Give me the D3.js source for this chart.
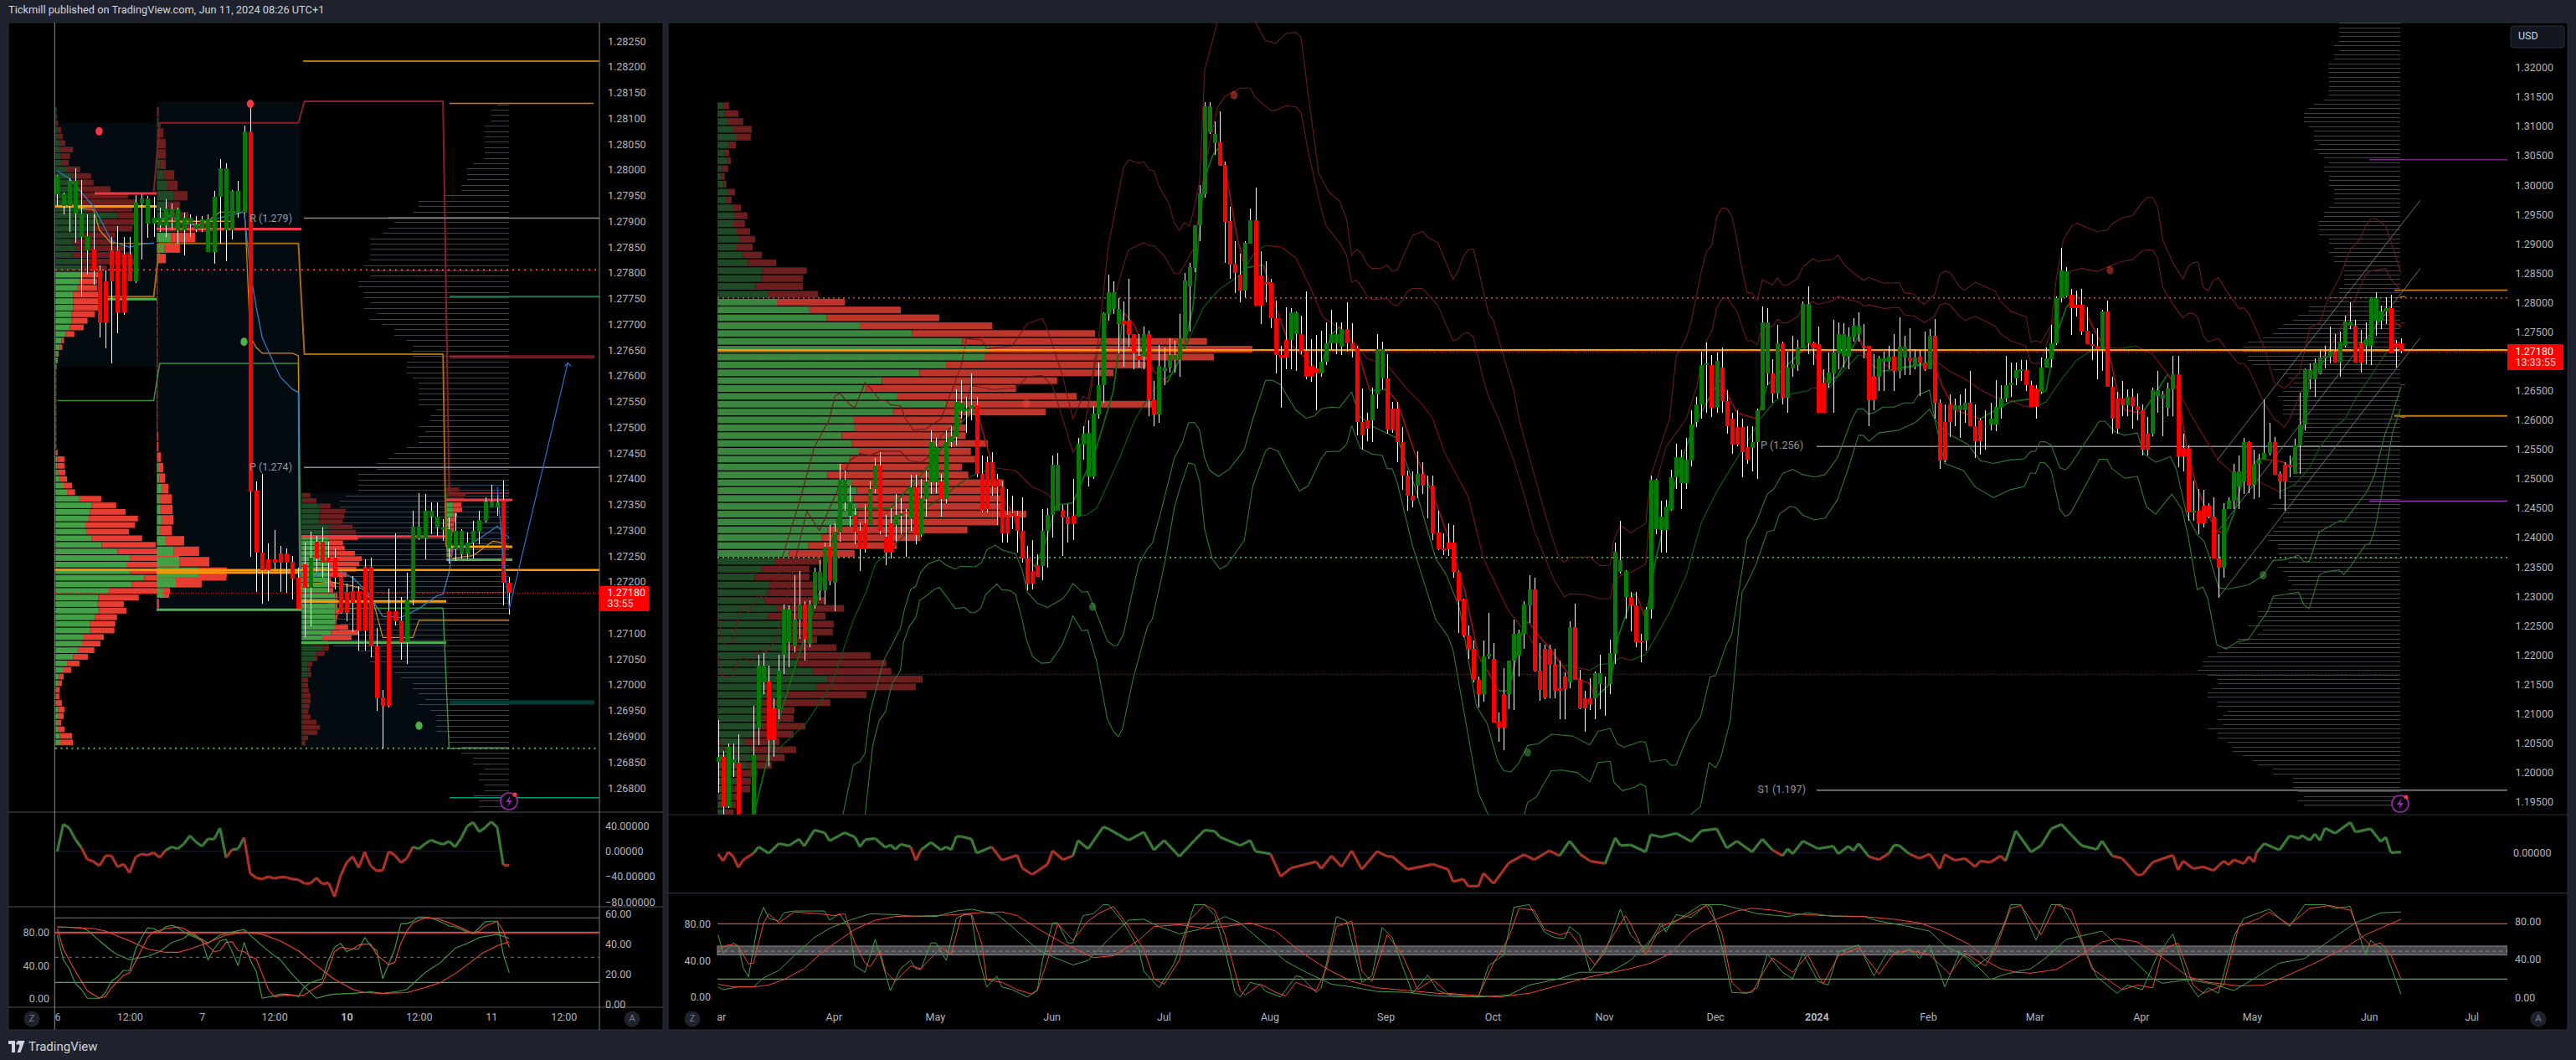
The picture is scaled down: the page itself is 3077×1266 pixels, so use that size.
<!DOCTYPE html>
<html><head><meta charset="utf-8">
<script src="https://cdnjs.cloudflare.com/ajax/libs/d3/7.8.5/d3.min.js"></script>
<style>html,body{margin:0;background:#1e222d}svg{display:block}text{font-family:Roboto,sans-serif}</style>
</head><body><svg id="c" width="3077" height="1266"></svg>
<script>
// ---- Daily chart (prices in 1e-4) ----
const dOpen=[12018,12027,11942,12017,12017,11900,11885,11900,12077,12153,12155,12109,12108,12201,12222,12215,12260,12286,12219,12284,12310,12310,12384,12323,12408,12460,12437,12438,12411,12424,12422,12483,12522,12402,12424,12422,12437,12443,12431,12485,12404,12466,12494,12494,12495,12465,12562,12571,12615,12615,12619,12625,12509,12528,12528,12500,12487,12438,12442,12437,12411,12364,12343,12353,12352,12412,12438,12446,12446,12436,12437,12435,12558,12504,12504,12610,12659,12781,12789,12763,12769,12769,12746,12709,12708,12747,12635,12610,12683,12689,12702,12702,12738,12828,12859,12931,12985,13090,13071,13073,13034,12939,12866,12847,12820,12900,12940,12846,12834,12834,12774,12711,12736,12736,12746,12747,12718,12692,12688,12679,12699,12730,12731,12725,12755,12730,12722,12597,12600,12600,12643,12671,12671,12620,12620,12563,12506,12471,12488,12508,12487,12489,12408,12381,12391,12391,12342,12294,12233,12211,12157,12133,12197,12193,12086,12133,12133,12191,12199,12236,12285,12312,12174,12211,12211,12183,12143,12163,12153,12248,12158,12127,12127,12127,12151,12151,12151,12202,12342,12299,12299,12284,12225,12225,12278,12414,12413,12413,12447,12503,12493,12493,12531,12597,12626,12694,12694,12621,12689,12632,12602,12588,12588,12554,12552,12562,12617,12679,12680,12645,12731,12638,12688,12694,12722,12730,12732,12729,12664,12662,12680,12714,12708,12708,12740,12746,12726,12726,12675,12674,12699,12699,12708,12684,12706,12706,12691,12708,12698,12687,12744,12629,12597,12626,12616,12616,12616,12629,12590,12600,12588,12592,12592,12621,12636,12659,12671,12685,12685,12660,12654,12648,12690,12704,12730,12807,12811,12813,12796,12796,12752,12729,12727,12720,12785,12657,12637,12637,12625,12640,12624,12617,12576,12576,12641,12636,12621,12652,12678,12552,12552,12444,12445,12454,12454,12435,12364,12349,12448,12463,12487,12495,12562,12490,12525,12532,12544,12562,12508,12524,12524,12509,12557,12592,12669,12669,12680,12705,12708,12717,12698,12726,12760,12761,12731,12726,12726,12769,12769,12785,12790,12731,12731];
const dClose=[12027,11942,12043,12022,11900,11880,11915,12030,12182,12182,12055,12055,12173,12277,12277,12261,12286,12227,12286,12341,12341,12384,12326,12410,12499,12499,12461,12410,12380,12380,12483,12522,12411,12375,12375,12438,12442,12441,12485,12404,12467,12495,12563,12555,12465,12563,12572,12631,12630,12619,12625,12509,12445,12449,12487,12487,12407,12407,12437,12411,12364,12321,12321,12333,12412,12438,12524,12524,12434,12423,12423,12559,12577,12578,12611,12660,12782,12817,12817,12789,12763,12746,12714,12702,12747,12635,12610,12692,12690,12711,12711,12739,12838,12860,12931,12986,13134,13134,13087,13033,12937,12865,12851,12820,12902,12940,12795,12795,12833,12774,12710,12707,12707,12783,12783,12718,12674,12674,12679,12699,12731,12746,12746,12755,12730,12721,12597,12574,12585,12643,12720,12720,12584,12584,12563,12506,12471,12463,12508,12488,12489,12407,12380,12379,12380,12342,12293,12233,12210,12157,12133,12197,12202,12085,12076,12076,12191,12236,12237,12286,12312,12173,12140,12128,12183,12139,12139,12142,12248,12158,12109,12109,12117,12169,12169,12150,12203,12376,12362,12343,12284,12222,12222,12278,12498,12498,12436,12452,12503,12537,12537,12532,12593,12626,12694,12696,12621,12701,12632,12589,12558,12558,12545,12532,12563,12617,12766,12766,12645,12731,12638,12689,12695,12724,12797,12797,12722,12612,12612,12681,12715,12746,12746,12742,12761,12761,12723,12634,12634,12705,12705,12708,12684,12725,12725,12701,12706,12698,12687,12744,12629,12531,12531,12597,12625,12625,12629,12590,12564,12564,12590,12602,12622,12637,12659,12663,12685,12686,12660,12623,12623,12690,12705,12731,12808,12854,12853,12791,12791,12751,12729,12728,12720,12785,12657,12602,12585,12625,12640,12624,12617,12550,12550,12651,12651,12643,12653,12678,12538,12538,12443,12445,12424,12424,12435,12364,12349,12448,12463,12512,12512,12562,12489,12526,12533,12544,12562,12507,12495,12495,12520,12557,12592,12686,12685,12698,12706,12709,12717,12698,12733,12768,12768,12698,12698,12738,12808,12808,12785,12790,12714,12723,12718];
const dHigh=[12089,12037,12049,12049,12065,11925,11915,12113,12201,12203,12182,12127,12201,12286,12284,12336,12343,12291,12293,12348,12362,12391,12422,12424,12525,12514,12488,12450,12426,12457,12495,12536,12546,12438,12450,12474,12467,12448,12507,12507,12500,12514,12583,12569,12509,12583,12590,12652,12668,12639,12679,12640,12540,12538,12546,12509,12495,12483,12471,12445,12469,12386,12395,12372,12448,12450,12540,12544,12455,12457,12500,12570,12589,12600,12624,12698,12784,12847,12836,12807,12802,12841,12747,12747,12759,12752,12667,12728,12723,12739,12735,12781,12850,12868,12931,13000,13141,13141,13108,13125,13040,12963,12904,12883,12904,12960,12996,12887,12871,12840,12804,12727,12792,12790,12785,12778,12819,12738,12745,12752,12766,12788,12766,12766,12800,12765,12726,12654,12612,12655,12746,12733,12712,12631,12631,12588,12514,12513,12547,12528,12505,12505,12445,12407,12424,12421,12343,12296,12250,12224,12163,12224,12271,12220,12102,12177,12191,12261,12243,12291,12336,12331,12220,12218,12217,12210,12191,12170,12258,12288,12175,12139,12160,12172,12201,12163,12226,12391,12428,12345,12307,12308,12236,12281,12505,12500,12462,12464,12516,12559,12550,12569,12617,12640,12717,12732,12711,12715,12724,12651,12612,12617,12602,12590,12590,12620,12793,12790,12704,12762,12733,12717,12744,12736,12802,12828,12733,12759,12686,12715,12770,12766,12765,12758,12773,12784,12764,12727,12712,12709,12717,12726,12746,12775,12743,12757,12721,12719,12751,12755,12772,12635,12626,12643,12636,12643,12654,12683,12626,12602,12617,12629,12668,12660,12709,12698,12698,12702,12702,12667,12660,12707,12724,12762,12811,12893,12861,12823,12821,12823,12792,12747,12757,12788,12803,12674,12648,12667,12652,12654,12645,12626,12605,12655,12683,12650,12664,12709,12709,12576,12557,12497,12483,12481,12459,12468,12406,12458,12469,12525,12540,12569,12564,12550,12543,12635,12595,12571,12512,12528,12540,12568,12646,12688,12697,12705,12721,12726,12759,12747,12750,12778,12800,12771,12754,12766,12808,12817,12795,12809,12814,12736,12739];
const dLow=[11965,11927,11939,11992,11890,11870,11870,11890,12046,12134,12011,12027,12091,12167,12179,12205,12227,12191,12213,12279,12293,12286,12319,12274,12393,12445,12419,12388,12343,12374,12421,12476,12405,12353,12364,12393,12405,12367,12412,12388,12402,12436,12474,12476,12436,12459,12554,12557,12602,12578,12600,12502,12443,12443,12471,12421,12391,12391,12414,12374,12357,12310,12312,12334,12327,12348,12400,12446,12369,12392,12395,12435,12533,12487,12500,12602,12630,12769,12781,12714,12691,12725,12686,12689,12686,12607,12590,12595,12659,12681,12681,12674,12738,12750,12852,12904,12979,13087,13051,13035,12868,12840,12816,12800,12809,12902,12795,12763,12800,12757,12680,12621,12686,12686,12683,12712,12669,12665,12617,12673,12693,12721,12712,12711,12716,12707,12574,12550,12564,12563,12619,12652,12576,12578,12528,12481,12445,12451,12467,12474,12433,12395,12379,12370,12369,12331,12237,12231,12193,12153,12110,12120,12193,12085,12052,12038,12108,12107,12163,12210,12255,12172,12122,12125,12127,12127,12091,12091,12144,12158,12108,12070,12106,12091,12108,12096,12134,12185,12338,12262,12241,12213,12188,12208,12262,12405,12374,12374,12445,12482,12449,12483,12521,12588,12603,12612,12605,12612,12612,12576,12543,12555,12502,12526,12512,12500,12617,12660,12629,12636,12626,12613,12674,12683,12722,12712,12693,12612,12612,12655,12612,12686,12690,12686,12733,12733,12705,12590,12617,12650,12650,12686,12650,12671,12676,12676,12686,12641,12683,12687,12602,12517,12528,12571,12590,12569,12595,12590,12535,12541,12550,12583,12581,12602,12631,12640,12660,12667,12650,12622,12602,12645,12689,12690,12728,12800,12809,12745,12776,12745,12729,12702,12669,12683,12657,12576,12576,12607,12607,12585,12600,12540,12540,12573,12612,12573,12607,12607,12519,12512,12428,12429,12405,12417,12433,12364,12298,12331,12448,12448,12449,12474,12476,12465,12469,12538,12540,12507,12466,12445,12502,12509,12509,12582,12652,12640,12678,12688,12697,12698,12674,12724,12755,12698,12681,12695,12694,12743,12755,12763,12714,12689,12714];
const bandOuterUp=[[0,12265],[1,12220],[3,12222],[4,12267],[5,12283],[6,12272],[8,12303],[9,12296],[11,12312],[13,12376],[16,12459],[19,12554],[22,12602],[23,12640],[24,12646],[26,12626],[27,12621],[29,12664],[30,12655],[32,12633],[33,12634],[34,12626],[36,12624],[37,12602],[38.5,12583],[41,12585],[44,12602],[48,12693],[49,12739],[52,12736],[53,12721],[58,12726],[61,12764],[64,12773],[65,12754],[68,12674],[70,12602],[72,12640],[73,12636],[75,12735],[77,12897],[80,13030],[81,13043],[83,13037],[84,13040],[85,13026],[86,13024],[87,12997],[89,12968],[90,12935],[91,12923],[92,12936],[93,12930],[94,12963],[95,13006],[96,13196],[98.5,13277],[102,13362],[106,13277],[108,13246],[110,13241],[112,13258],[114,13260],[115,13251],[116.5,13149],[118.5,13020],[120.6,12987],[122.6,12973],[124,12942],[125,12880],[126,12891],[127,12883],[128,12866],[129,12858],[131,12859],[132,12864],[133,12853],[134,12856],[135,12876],[137,12914],[139,12921],[140,12911],[142,12902],[145,12839],[146,12854],[147,12878],[148,12890],[149,12891],[150,12857],[152,12781],[153,12769],[155,12707],[157,12650],[158,12602],[161,12507],[163,12445],[165,12388],[166,12364],[167,12358],[168,12366],[172,12367],[174,12352],[176,12353],[176.6,12393],[178,12421],[180,12408],[183,12424],[184,12505],[187.7,12602],[189,12707],[191,12740],[192,12769],[193,12811],[194,12854],[195,12887],[196,12897],[197,12945],[198,12961],[199,12960],[200,12947],[201,12907],[202,12857],[203,12817],[204,12816],[205,12803],[206,12839],[208,12830],[209,12842],[210,12830],[211,12830],[213,12841],[214,12860],[216,12875],[217,12870],[220,12874],[221,12881],[222,12866],[224,12850],[226,12838],[227,12843],[230,12833],[233,12834],[234,12817],[236,12814],[237,12802],[238,12797],[240,12814],[241,12847],[242,12854],[243,12851],[245,12826],[246,12821],[248,12835],[252,12819],[253,12802],[255,12785],[258,12776],[259,12733],[260,12735],[261,12732],[263,12762],[264,12840],[265.4,12907],[267,12930],[268,12935],[272,12921],[274,12923],[275,12934],[277,12944],[279,12948],[281,12971],[282,12979],[283,12979],[284,12963],[285,12906],[287,12868],[289,12840],[290,12861],[291,12868],[292,12869],[293,12826],[294,12820],[295,12838],[296,12842],[297.5,12821],[300,12790],[301,12791],[302,12781],[305,12724],[307,12664],[309,12654],[310,12662],[312,12681],[314,12757],[316,12766],[317.5,12804],[320,12845],[322,12890],[324,12909],[325,12930],[326,12943],[327,12943],[329,12930],[330,12904],[332,12850]];
const bandInnerUp=[[0,12198],[1,12163],[3,12164],[4,12189],[5,12197],[6.5,12185],[8,12210],[9.5,12205],[11.5,12227],[14,12317],[17.5,12445],[20,12412],[23,12469],[26,12531],[28,12543],[30,12540],[32,12547],[36,12547],[37.7,12531],[40,12528],[42,12540],[44,12573],[48,12602],[50,12659],[54,12652],[59,12655],[61,12674],[64,12676],[66,12657],[68,12602],[70,12545],[72,12574],[75,12721],[77,12769],[80,12864],[81,12890],[84,12902],[85,12897],[86,12897],[88,12880],[90,12850],[91,12849],[92,12864],[94,12895],[96,13030],[98.5,13132],[100,13151],[103,13165],[105,13165],[106,13149],[109,13127],[110,13127],[112,13135],[114,13133],[115,13123],[116.5,13054],[119,12959],[120,12930],[122.6,12902],[124,12880],[125,12835],[126,12838],[127,12826],[128,12811],[129,12805],[132,12807],[133,12797],[134,12795],[135,12804],[136,12819],[137,12824],[139,12824],[142,12795],[145,12735],[146,12738],[147,12747],[148,12749],[149,12741],[151,12669],[152,12640],[153,12621],[154,12602],[157,12531],[159,12474],[161,12412],[163,12369],[165,12326],[167,12299],[168,12304],[171,12303],[174,12296],[176,12296],[176.6,12322],[178,12336],[180,12340],[183,12355],[184,12459],[187,12554],[191,12602],[193,12655],[195,12735],[196,12750],[197,12790],[198,12806],[199,12808],[201,12785],[202,12759],[203,12735],[204,12735],[205,12728],[206,12759],[208,12759],[209,12771],[210,12765],[211,12766],[213,12776],[214,12792],[216,12802],[217,12797],[220,12803],[221,12811],[222,12807],[225,12801],[226,12794],[227,12796],[230,12790],[233,12792],[234,12779],[236,12777],[238,12766],[240,12777],[241,12796],[242,12799],[243,12796],[245,12776],[246,12770],[248,12777],[252,12759],[253,12747],[255,12735],[258,12726],[259,12698],[260,12696],[261,12698],[263,12755],[265.4,12835],[267,12854],[269,12858],[272,12853],[274,12860],[277,12870],[279,12873],[281,12888],[282,12890],[283,12889],[284,12876],[285,12826],[287,12797],[289,12774],[290,12781],[291,12782],[292,12773],[293,12743],[294,12733],[296,12739],[297.5,12721],[300,12696],[301,12696],[302,12686],[305,12629],[307,12602],[309,12588],[310,12602],[313,12660],[315,12688],[317.5,12716],[320,12755],[322,12788],[325,12847],[326,12854],[329,12858],[330,12840],[332,12821]];
const bandInnerDown=[[24.6,11927],[26.7,12013],[28,12019],[29,12033],[30,12103],[32.6,12189],[36,12246],[36.8,12279],[38,12312],[39,12317],[40,12341],[41.4,12355],[43.6,12362],[45,12353],[46.8,12346],[47.8,12351],[50.7,12350],[52,12357],[53,12379],[54.7,12387],[56,12379],[58.7,12372],[60,12345],[61,12307],[63,12288],[65,12281],[66,12286],[68,12296],[69,12307],[70,12322],[71.8,12307],[72.9,12308],[74.3,12279],[76.8,12224],[78,12216],[78.8,12216],[80,12236],[81.5,12298],[83,12355],[84.7,12381],[85.7,12391],[87.4,12445],[90,12535],[91.6,12562],[92.8,12595],[94,12596],[95,12583],[96,12535],[97,12514],[98.7,12504],[100.8,12516],[103.8,12549],[105.5,12602],[108,12667],[109.3,12668],[111,12660],[112,12645],[114,12617],[116,12603],[117.7,12607],[119,12619],[121,12622],[122.6,12621],[125,12648],[126.5,12607],[129.4,12588],[134,12569],[137.4,12488],[141.6,12364],[143.7,12336],[146.3,12279],[149.6,12113],[151.7,12084],[153.8,12020],[155,12003],[156.4,12001],[157.9,12015],[159.7,12046],[161.8,12049],[164.4,12065],[168.6,12062],[172,12047],[173.6,12070],[176,12075],[177.4,12049],[178.7,12043],[182,12053],[183,12051],[183.9,12018],[186.9,12022],[188,12012],[189,12013],[191.7,12070],[193.8,12094],[195.7,12163],[196.8,12165],[198.9,12217],[200,12236],[203,12398],[204.8,12426],[207,12474],[208.3,12483],[210,12509],[212,12516],[214,12507],[216.4,12503],[218.4,12507],[220.8,12535],[223.7,12602],[224.8,12619],[226,12619],[226.9,12610],[228,12612],[229.8,12622],[232,12622],[233.9,12629],[235.8,12629],[236.8,12643],[239,12651],[240,12602],[242.3,12578],[246.5,12559],[249,12531],[251.6,12526],[254.8,12532],[257.7,12534],[258.9,12546],[259.9,12547],[260.8,12563],[261.8,12563],[263,12557],[264.7,12519],[265.8,12515],[266.8,12524],[272.5,12598],[273.6,12598],[275.4,12581],[277.5,12574],[280,12578],[281.2,12543],[283.6,12528],[286.5,12538],[287.7,12516],[289.7,12440],[291.8,12405],[293.2,12393],[294.3,12364],[296,12315],[297.8,12312],[301.8,12319],[304.6,12334],[306.8,12361],[308.9,12362],[311.8,12370],[312.8,12359],[313.9,12359],[315.9,12410],[317.5,12417],[320,12429],[320.7,12426],[323.2,12455],[325.3,12478],[326.8,12507],[328.9,12578],[330,12602],[332,12657]];
const bandOuterDown=[[29,11927],[30.5,12046],[31.8,12089],[33,12103],[34.3,12151],[36,12174],[36.6,12222],[37.7,12248],[39,12264],[39.8,12293],[41,12300],[42.7,12312],[43.7,12315],[45.2,12298],[46.8,12279],[48.6,12281],[49.9,12272],[50.7,12272],[51.8,12279],[52.8,12303],[55,12321],[56,12311],[57.5,12310],[58.7,12303],[60,12260],[60.8,12227],[62,12198],[63.8,12186],[65.5,12187],[67.8,12216],[69.2,12246],[70,12267],[71.8,12241],[72.9,12243],[74.7,12189],[76.8,12091],[78,12070],[79,12061],[79.8,12075],[81.9,12160],[84,12227],[84.8,12250],[85.7,12262],[88.2,12360],[90,12450],[91,12481],[92.8,12527],[94,12524],[95,12495],[96,12414],[97.5,12364],[99,12346],[100.4,12353],[103.8,12395],[105.5,12488],[108,12547],[108.8,12553],[110.5,12547],[112,12521],[114.7,12479],[116.4,12488],[119,12535],[120,12546],[122.6,12547],[124,12559],[125,12590],[126.7,12552],[129,12542],[131,12540],[132,12517],[133,12517],[134,12493],[137,12386],[141.6,12260],[144,12232],[145,12208],[150,11965],[152,11927],[156,11890],[159,11927],[159.7,11949],[161.4,11958],[164.4,12003],[166.5,12004],[169.4,12000],[172,11984],[173.6,12017],[176,12019],[176.7,11984],[178.4,11969],[180.8,11975],[182,11981],[183,11976],[183.7,11927],[187.5,11890],[191.7,11927],[193.8,11942],[195.5,12017],[196.8,12008],[197.8,12025],[199.7,12089],[202,12307],[203,12322],[204.8,12355],[207,12410],[208.3,12412],[209.4,12440],[211.5,12453],[212.6,12451],[214,12438],[216.3,12430],[218.4,12433],[220.8,12464],[222.9,12516],[225,12574],[225.9,12574],[227,12564],[229,12578],[233,12583],[236.4,12597],[239,12619],[240,12602],[242,12526],[245.7,12514],[248,12486],[251.6,12468],[254.8,12481],[257.7,12487],[258.9,12510],[259.9,12509],[260.8,12528],[261.8,12527],[263,12514],[264.7,12448],[265.8,12436],[266.8,12441],[272.5,12533],[274,12533],[275,12517],[277.5,12501],[280,12504],[281.8,12452],[283.6,12440],[286.8,12474],[288.8,12448],[290,12403],[291.8,12311],[292.9,12316],[293.9,12296],[295.7,12217],[297.5,12210],[299.6,12222],[301.8,12226],[305.7,12274],[306.8,12300],[308.9,12303],[311.8,12307],[312.8,12286],[313.9,12279],[315.9,12336],[317,12341],[319.8,12345],[320.7,12337],[322,12350],[325,12388],[325.8,12389],[326.8,12412],[328.5,12488],[330.3,12578],[331.9,12619]];
const slowMA=[[0,12060],[1,12041],[4,12032],[6.5,12003],[7.7,12025],[10,12025],[13,12049],[17.4,12084],[22.5,12151],[26.7,12260],[29.2,12307],[31,12355],[33.4,12374],[37.7,12412],[41,12450],[48.6,12497],[51,12509],[54.5,12519],[58.7,12514],[61.7,12488],[65,12474],[67.6,12450],[70,12438],[72.6,12438],[74.7,12450],[79,12531],[82.3,12602],[85.7,12650],[90,12683],[94,12759],[95.8,12792],[98.7,12821],[103,12847],[106,12887],[108,12897],[111,12895],[114,12876],[116.8,12826],[119.4,12774],[122.6,12757],[125,12738],[128,12705],[132,12693],[136,12652],[139,12626],[141,12602],[143.3,12545],[148,12469],[151,12364],[154,12310],[156,12274],[160,12232],[162,12198],[165.6,12182],[168,12182],[172,12174],[174,12184],[176.6,12186],[178,12196],[180,12191],[183,12201],[187.5,12269],[191,12336],[194,12426],[197,12478],[200,12521],[203.5,12569],[205.6,12602],[208.6,12633],[212,12645],[215,12650],[216,12655],[219,12652],[221,12674],[225,12711],[228,12702],[232,12688],[236,12693],[240,12702],[243,12683],[246.5,12667],[249,12652],[251.6,12640],[255,12633],[257.6,12624],[259.7,12621],[262,12631],[265,12669],[268,12702],[272,12724],[277,12722],[279.7,12726],[283,12712],[286,12678],[288,12650],[291,12602],[293,12574],[296,12531],[298.6,12512],[304,12495],[308,12478],[311,12490],[314,12519],[316,12554],[319,12588],[321,12602],[323,12636],[326,12674],[329,12714],[331,12738]];
const fastMA=[[7,11927],[10,12032],[15,12175],[20,12307],[24,12445],[29,12450],[34,12450],[41,12516],[46,12573],[48.6,12602],[51,12617],[56,12467],[58,12445],[60.4,12379],[62.5,12350],[64.6,12393],[66.7,12455],[70,12459],[74.7,12554],[78,12650],[80,12783],[82,12764],[85,12702],[86,12683],[88.6,12664],[91.6,12712],[93.7,12792],[95.8,13006],[97.5,13049],[98.7,13063],[100,13030],[102.5,12906],[104,12859],[107.6,12864],[110,12792],[112.6,12731],[116.4,12702],[118.5,12683],[121,12745],[122.7,12759],[126,12721],[128.6,12650],[132,12652],[134,12631],[137.4,12545],[141,12474],[144,12402],[147.4,12307],[150,12198],[152,12170],[154,12139],[156,12139],[159,12255],[160,12255],[162,12232],[164,12212],[168,12165],[172,12151],[173,12127],[176,12151],[177.6,12232],[180.6,12305],[181.4,12298],[183,12260],[185,12364],[187.6,12459],[191,12554],[192.6,12592],[197.6,12669],[201,12612],[205,12602],[207,12660],[210.3,12688],[215.4,12731],[218.7,12664],[220.8,12674],[225,12743],[227,12697],[229.7,12683],[239.8,12697],[241.4,12660],[244,12617],[249,12602],[254.8,12631],[259,12636],[262,12650],[264,12745],[266,12792],[268,12814],[272,12745],[274.6,12707],[276,12650],[277.5,12617],[281,12612],[286,12678],[288,12650],[289.7,12554],[291.8,12483],[295.4,12412],[297.5,12407],[299,12440],[301,12507],[304,12535],[309,12528],[310,12521],[312.5,12574],[314,12674],[317.5,12707],[321,12731],[325.3,12733],[329,12792],[330.5,12769],[332,12758]];
const channelLines=[[[295.7,12531],[335.8,12974]],[[296,12412],[335.8,12858]],[[296,12298],[335.8,12740]]];
const profBuy=[13,17,23,35,45,26,17,23,11,9,15,25,21,35,39,37,45,51,45,59,71,105,103,89,119,139,215,255,333,455,573,635,625,535,473,385,347,421,535,411,319,321,291,315,331,311,287,257,315,326,318,327,328,328,258,243,213,167,133,103,87,123,117,111,139,119,150,150,150,158,168,187,223,257,231,159,107,98,93,93,88,63,78,78,73,56,53,38,36,36,13];
const profSell=[14,32,37,45,33,17,10,8,14,8,6,16,12,20,31,27,31,37,37,45,66,104,97,111,116,159,214,264,310,429,573,617,537,468,454,410,352,420,483,357,253,262,290,318,262,292,285,330,355,332,345,336,395,330,327,232,207,154,110,112,128,100,111,142,157,134,122,120,83,120,190,208,184,223,233,190,157,82,85,113,90,82,106,79,54,37,25,38,12,7,25];
const grayVolD=[169,169,169,169,169,183,169,183,183,197,197,197,197,197,197,197,197,211,239,253,267,267,267,253,239,239,239,225,239,225,211,197,211,211,197,197,197,183,183,183,183,197,211,211,225,225,225,225,197,197,183,197,183,183,155,155,155,155,155,169,169,197,197,253,253,282,296,325,338,352,380,422,436,436,422,422,408,352,325,311,297,309,325,339,325,325,325,325,282,267,282,267,267,267,267,282,282,282,282,282,297,297,311,297,311,325,311,352,366,325,325,325,338,352,366,366,338,338,338,311,311,338,325,311,311,297,311,311,352,366,366,394,394,380,422,380,394,450,450,492,506,534,548,548,562,534,506,506,520,534,534,506,506,478,492,506,492,534,506,506,478,464,464,436,408,394,352,352,297,297,297,282,267,282,267];
// ---- Hourly chart (prices in 1e-5) ----
const hOpen=[127952,127930,127930,127915,127869,127844,127845,127805,127783,127843,127843,127836,127836,127783,127935,127895,127895,127893,127893,127907,127882,127882,127894,127885,127886,127841,127841,127947,127882,127882,127917,127917,128074,127377,127257,127243,127243,127255,127255,127239,127208,127234,127189,127278,127278,127247,127247,127209,127181,127182,127182,127229,127229,127075,126975,127143,127143,127125,127083,127165,127285,127285,127326,127305,127300,127265,127264,127254,127254,127277,127297,127319,127345,127345,127357,127199];
const hClose=[127989,127952,127979,127979,127915,127871,127804,127703,127703,127783,127723,127723,127783,127936,127944,127944,127907,127907,127925,127923,127923,127907,127907,127894,127903,127904,127948,128003,128003,127959,127959,128074,127376,127256,127223,127223,127238,127238,127238,127207,127148,127189,127247,127246,127238,127238,127208,127140,127140,127159,127106,127106,127074,126974,126960,126960,127124,127083,127166,127307,127307,127338,127338,127326,127306,127303,127299,127299,127277,127299,127320,127356,127356,127354,127199,127178];
const hHigh=[127990,127956,127983,128003,127980,127913,127913,127815,127804,127869,127891,127869,127869,127951,127953,127950,127948,127926,127942,127934,127926,127917,127913,127910,127910,127913,127959,128021,128013,127960,127978,128086,128132,127395,127409,127275,127300,127269,127265,127251,127227,127277,127297,127290,127306,127278,127265,127211,127197,127211,127192,127243,127247,127110,126990,127187,127294,127170,127218,127338,127372,127371,127354,127355,127322,127325,127333,127303,127295,127318,127338,127364,127389,127373,127397,127210];
const hLow=[127932,127913,127880,127858,127755,127796,127777,127674,127654,127624,127683,127719,127783,127780,127826,127868,127869,127880,127869,127883,127856,127834,127869,127880,127880,127840,127817,127856,127823,127865,127907,127915,127248,127181,127157,127162,127224,127180,127178,127165,127148,127092,127113,127219,127208,127181,127186,127138,127124,127102,127067,127067,127054,126949,126876,126956,127116,127048,127040,127154,127281,127243,127292,127289,127279,127235,127241,127246,127246,127246,127273,127315,127344,127328,127154,127136];
const hVwap=[[0,127998],[2,127983],[4,127956],[6,127929],[7.5,127896],[9,127861],[12,127850],[14,127856],[16,127858],null,[17,127902],[19,127913],[20,127899],[23,127892],[27,127907],[31,127918],[31.2,127896],[32,127804],[33,127734],[34,127674],[36,127623],[37,127598],[39,127574],[40,127568],[40.2,127192],[43,127213],[45.4,127230],[49,127208],[51.4,127181],[54,127133],[57,127131],[60,127148],[63,127173],[64,127176],[65,127219],[65.6,127262],[69,127276],[73,127308],[75,127285]];
const hBandOrange=[[2,127935],[3.6,127925],[6,127923],[7,127883],[9,127857],[12,127857],[16,127857],null,[17,127902],[20,127899],[24,127892],[27,127918],[31,127918],[31.2,127896],[32,127677],[33,127655],[34,127644],[39,127644],[40,127639],[40.2,127186],[43,127197],[45.4,127200],[49,127192],[50.7,127186],[52.5,127159],[54,127092],[59,127092],[60,127125],[64,127125],[75,127125],null,[65.6,127246],[69,127251],[72.3,127279],[73.7,127276],[75,127268]];
const hStepRed=[[16,127956],[17,128091],[40,128091],[41,128133],[64,128133],[65,127387],[65,127372],[75,127372]];
const hStepOrange=[[8,127754],[16,127754],[17,127857],[40,127857],[41,127642],[64,127642],[64.5,127268]];
const hStepGreen=[[0,127552],[16,127552],[17,127624],[40,127624],[40.5,127148],[64,127149],[65,126877],[75,126877]];
const hBlueDraw=[[73,127384],[74,127246],[75,127148],[84.7,127625]];
const grayVolH=[27,42,42,42,57,57,57,57,57,57,57,85,99,99,99,113,113,155,212,212,226,283,269,283,297,326,326,326,326,326,340,326,326,354,354,340,340,326,340,311,326,297,269,269,240,226,226,226,240,240,240,226,212,212,212,212,212,171,185,185,212,197,212,212,240,269,283,311,311,354,354,354,354,382,397,397,397,397,397,397,412,397,397,397,412,412,412,412,397,397,426,426,440,426,412,412,412,397,397,440,440,412,354,326,326,287,269,254,226,226,212,197,212,185,171,171,171,171,142,142,113,113,85,85,57,71,71,57,57,85,71,71,85];
const s1Buy=[2,2,3,5,5,9,11,12,15,27,37,33,55,55,62,70,145,110,90,65,40,48,40,60,60,60,58,52,42,42,42,38,38,34,24,14,10,5,5,2,1,1,1,1,1,1,1,1,1,1,1,1,1,4,4,5,9,19,27,56,84,80,78,70,72,84,108,145,174,166,174,208,178,125,100,99,102,92,80,80,66,62,52,42,27,17,8,7,1,1,1,6,7,5,7,10,11,6].slice(0,97);
const s1Sell=[1,2,3,8,12,14,30,22,16,31,46,56,74,115,128,110,43,80,90,75,100,112,140,130,60,50,40,46,58,58,60,54,37,32,20,6,6,3,0,1,1,1,1,1,1,1,1,1,1,1,1,1,4,17,17,18,18,20,19,51,58,84,115,116,100,119,127,125,116,124,116,192,162,143,95,61,64,52,60,58,47,43,39,34,29,20,11,8,9,8,14,15,12,8,14,29,30,13].slice(0,97);
const s2Buy=[1,3,3,3,3,8,16,25,39,26,33,53,33,18,5,1,1,1,1,1,1,1,1,1,1,1,1,1,1,1,1,1,1,1,5,6,11,7,9,11,7,21,39,53,98,45,15,1];
const s2Sell=[4,2,12,18,18,13,25,24,33,28,41,90,57,36,16,1,1,1,1,1,1,1,1,1,1,1,1,1,1,1,1,2,3,9,10,13,16,28,28,28,28,43,60,70,66,60,14,4];
const s3Buy=[2,2,42,44,42,42,66,66,66,64,64,64,64,64,64,64,64,64,64,79,79,79,79,79,79,76,69,49,24,51,36,31,14,14,14,2,2,2,2,2,2,2,2,2,2,2,2,1];
const s3Sell=[19,33,26,59,58,54,53,61,66,33,37,61,77,71,64,42,5,15,10,5,5,5,10,5,3,33,65,68,40,13,18,6,11,7,9,13,13,15,19,19,17,14,19,33,41,35,13,8];
const s4Buy=[3,5,17,15,15,15,10,8,8,6,5,5,5,5];
const s4Sell=[27,40,23,20,22,10,13,10,10,8,8,8,10,8];
// ---- CCI ----
const cciH=[0,43,37,19,6,-13,-16,-23,-7,-7,-25,-20,-34,-9,-4,-6,-2,-10,2,7,4,12,25,15,8,20,19,37,-10,3,4,22,-35,-42,-44,-40,-43,-41,-41,-44,-45,-51,-51,-42,-52,-50,-72,-39,-18,-8,-26,-1,-23,-31,-30,0,-6,-18,-11,7,4,12,18,14,11,16,7,21,40,46,31,38,47,38,-22,-22];
const cciD=[[0,-2],[1,-13],[2,1],[3,-6],[4,-23],[5,-11],[7,-1],[8,9],[10,-1],[12,14],[14,11],[16,21],[17,10],[19,35],[21,31],[22,18],[25,31],[27,24],[28,9],[29,20],[31,22],[33,8],[34,12],[35,5],[36,13],[38,9],[39,-12],[40,4],[42,16],[44,4],[45,9],[46,4],[47,25],[48,25],[50,21],[51,-1],[54,9],[56,-12],[59,-4],[60,-24],[62,-34],[65,-18],[66,3],[68,-11],[70,-5],[71,19],[73,6],[76,40],[77,37],[79,28],[81,19],[84,32],[86,4],[88,19],[91,-6],[94,19],[96,35],[98,33],[99,24],[103,11],[105,19],[106,2],[109,-2],[111,-37],[113,-24],[118,-14],[119,-25],[121,-5],[123,-22],[125,3],[127,-26],[130,2],[132,-6],[133,-6],[136,-26],[141,-18],[144,-26],[145,-45],[147,-41],[148,-52],[150,-52],[151,-32],[153,-48],[156,-16],[159,-3],[161,-11],[164,3],[166,-5],[168,18],[170,-2],[172,-13],[175,-17],[177,23],[178,11],[180,12],[183,1],[184,28],[186,24],[189,30],[192,17],[194,34],[197,37],[199,7],[201,18],[204,1],[206,21],[208,4],[210,-5],[211,6],[212,-2],[214,18],[217,6],[220,10],[221,-2],[223,10],[224,3],[225,14],[227,-6],[229,-11],[231,-1],[232,12],[233,11],[235,-2],[237,-9],[239,-2],[240,-13],[241,-25],[242,-3],[244,-12],[246,-9],[248,-22],[249,-13],[251,-15],[253,-5],[254,-13],[256,34],[259,1],[261,11],[263,37],[265,44],[267,27],[269,11],[272,5],[273,18],[275,-5],[277,-9],[280,-35],[281,-34],[283,-15],[287,-4],[288,-27],[289,-13],[291,-25],[293,-22],[295,-28],[297,-13],[298,-19],[299,-11],[301,-17],[302,-6],[303,-15],[303.5,0],[305,14],[308,4],[310,26],[312,22],[312.4,27],[314,19],[315,29],[316,19],[317,38],[319,30],[322,47],[323,32],[326,37],[328,17],[329,24],[330,0],[332,1]];
// ---- Stochastics ----
const stFastGreenH=[[0,77],[1,47],[2,36],[3,18],[4,11],[5,0],[7,0],[8,7],[9,21],[10,26],[11,34],[12,34],[13,60],[14,74],[15,86],[16,85],[17,81],[18,87],[19,89],[20,86],[21,81],[22,77],[23,74],[24,70],[25,47],[26,60],[27,70],[28,72],[29,57],[30,40],[31,68],[32,47],[33,33],[34,0],[36,3],[37,5],[38,5],[39,4],[40,2],[41,14],[42,19],[44,24],[45,47],[46,62],[47,67],[48,57],[49,60],[50,60],[51,74],[52,64],[53,58],[54,24],[56,60],[57,91],[58,91],[59,94],[60,99],[61,99],[62,98],[63,95],[64,92],[65,88],[66,87],[67,84],[68,81],[69,79],[70,86],[71,93],[72,94],[73,94],[74,53],[75,31]];
const stFastRedH=[[0,85],[1,60],[3,33],[5,9],[7,0],[8,2],[9,13],[11,28],[12,31],[13,45],[15,74],[16,81],[18,85],[20,87],[21,85],[22,81],[23,77],[24,70],[25,64],[26,57],[27,58],[28,68],[29,69],[30,58],[31,57],[32,51],[33,48],[34,30],[35,11],[36,2],[38,4],[40,3],[41,4],[42,9],[44,18],[45,36],[46,57],[47,62],[48,61],[49,60],[50,65],[51,66],[52,66],[53,53],[55,41],[56,44],[57,67],[58,82],[59,92],[61,98],[63,97],[65,92],[67,86],[69,79],[70,82],[71,88],[73,94],[74,82],[75,62]];
const stSlowGreenH=[[0,87],[4,86],[5,83],[7,70],[9,58],[10,53],[12,47],[15,51],[17,57],[19,68],[21,73],[22,79],[24,72],[25,67],[27,77],[28,79],[31,84],[32,77],[34,64],[36,52],[37,47],[39,29],[41,14],[43,0],[45,4],[46,5],[49,6],[52,8],[54,6],[57,9],[58,11],[61,31],[62,36],[63.5,43],[66,61],[68,67],[70,74],[73,78],[75,73]];
const stSlowRedH=[[0,87],[6,85],[8,82],[12,70],[15,60],[18,56],[20,56],[22,60],[25,68],[28,77],[31,81],[34,78],[37,70],[40,58],[43,40],[46,23],[49,11],[51,7],[54,6],[58,7],[61,13],[63.5,19],[66,30],[68.4,43],[70.5,55],[73,64],[75,69]];
const stFastGreenD=[[0,68],[1,48],[3,59],[4,56],[5,31],[6,22],[8,84],[9,98],[10,86],[12,83],[13,92],[15,94],[21,94],[22,84],[24,91],[26,74],[27,34],[29,27],[31,63],[34,7],[36,31],[38,40],[39,31],[40,30],[42,59],[43,59],[45,40],[47,86],[49,91],[50,89],[51,52],[53,11],[55,23],[56,11],[58,8],[61,0],[63,8],[64,40],[66,81],[67,81],[69,59],[70,59],[72,89],[74,91],[76,101],[77,101],[80,81],[83,52],[84,28],[87,10],[90,37],[94,101],[96,101],[98,89],[100,52],[102,5],[103,0],[105,16],[107,13],[108,6],[111,0],[114,23],[115,22],[118,5],[119,10],[122,88],[124,83],[127,16],[129,23],[131,76],[133,65],[135,34],[137,4],[140,24],[142,7],[145,1],[150,0],[152,34],[155,46],[157,98],[160,101],[163,71],[165,65],[167,64],[168,77],[170,68],[172,28],[175,49],[178,96],[180,68],[183,52],[186,81],[187,71],[189,90],[192,87],[195,101],[196,98],[198,56],[200,5],[203,4],[205,10],[207,47],[210,27],[212,20],[214,48],[217,17],[219,13],[221,49],[225,57],[228,23],[231,52],[233,46],[235,53],[237,42],[239,57],[242,11],[245,49],[248,33],[251,45],[254,84],[255,101],[257,101],[260,62],[263,101],[265,101],[268,72],[272,22],[276,4],[278,13],[281,8],[284,46],[287,69],[290,16],[292,0],[294,10],[296,4],[299,66],[301,86],[306,96],[310,77],[313,101],[317,101],[319,97],[322,99],[325,46],[326,62],[329,49],[332,3]];
const stFastRedD=[[0,52],[2,57],[4,56],[6,36],[7,37],[9,81],[10,91],[12,81],[15,93],[20,91],[23,89],[25,91],[27,59],[29,37],[30,33],[32,50],[33,28],[35,17],[38,34],[40,31],[44,54],[46,47],[48,89],[50,91],[52,59],[53,19],[56,16],[59,8],[62,3],[63,7],[65,40],[67,80],[70,62],[73,83],[75,91],[78,99],[81,77],[84,52],[86,20],[88,14],[91,40],[93,84],[96,101],[98,95],[100,68],[103,7],[104,2],[107,14],[110,5],[112,1],[114,16],[118,7],[120,31],[122,77],[125,83],[127,28],[129,17],[132,68],[135,46],[138,8],[141,19],[144,4],[150,1],[153,37],[156,65],[158,97],[161,95],[163,74],[166,68],[168,71],[171,49],[173,35],[176,62],[179,89],[180,80],[183,46],[186,77],[191,88],[195,100],[198,71],[200,16],[202,5],[204,5],[206,25],[208,43],[212,27],[215,46],[218,14],[221,45],[225,54],[229,25],[232,48],[235,51],[239,46],[243,25],[246,48],[250,34],[252,52],[255,97],[257,100],[261,68],[264,101],[267,95],[271,31],[277,8],[280,13],[283,10],[285,52],[288,59],[291,13],[293,4],[297,13],[300,77],[304,86],[306,93],[310,79],[314,97],[318,100],[322,95],[324,68],[326,56],[328,59],[330,46],[332,20]];
const stSlowGreenD=[[0,11],[1,8],[4,11],[7,11],[9,21],[12,29],[15,45],[19,65],[22,75],[26,84],[30,91],[35,90],[39,88],[43,88],[47,94],[50,96],[55,90],[58,77],[63,52],[66,44],[70,35],[73,40],[77,63],[81,84],[84,85],[87,77],[91,69],[95,74],[100,88],[103,81],[107,62],[112,39],[116,27],[121,14],[125,11],[130,6],[136,5],[142,1],[150,0],[156,2],[160,13],[166,20],[170,27],[176,27],[180,40],[185,68],[189,83],[192,94],[194,101],[198,101],[201,97],[205,91],[211,88],[215,92],[220,88],[226,88],[229,83],[234,78],[239,72],[242,56],[247,42],[251,19],[254,25],[259,31],[262,43],[266,63],[273,72],[277,52],[283,20],[285,15],[290,19],[295,14],[299,7],[303,20],[308,37],[313,42],[318,62],[323,81],[328,92],[332,93]];
const stSlowRedD=[[0,14],[3,11],[7,11],[10,13],[13,19],[17,31],[21,51],[27,74],[31,84],[35,88],[43,89],[47,90],[51,92],[56,93],[59,89],[63,75],[68,59],[74,43],[78,45],[83,62],[86,77],[91,79],[96,75],[100,77],[105,81],[110,72],[115,49],[120,31],[125,17],[130,10],[136,7],[142,4],[148,2],[154,0],[160,4],[166,13],[172,22],[180,31],[184,37],[188,48],[192,71],[196,83],[201,94],[204,97],[208,95],[212,91],[218,89],[226,88],[232,85],[237,81],[242,71],[247,57],[250,40],[253,31],[256,27],[259,26],[264,30],[268,43],[273,60],[276,64],[280,60],[285,43],[290,22],[294,16],[300,12],[305,13],[309,22],[315,37],[321,54],[325,68],[332,85]];
// ---- Labels ----
const hourTicks=[0,12,24,36,48,60,72,84];
const hourLabels=["6","12:00","7","12:00","10","12:00","11","12:00"];
const dayTicks=[0.6,22.8,42.8,65.8,87.9,108.8,131.7,152.8,174.8,196.7,216.7,238.7,259.7,280.7,302.6,325.7,345.9];
const dayLabels=["ar","Apr","May","Jun","Jul","Aug","Sep","Oct","Nov","Dec","2024","Feb","Mar","Apr","May","Jun","Jul"];
const dayPriceTicks=d3.range(0,26).map(k=>13200-k*50).filter(v=>v!==12700);
const hourPriceTicks=d3.range(0,30).map(k=>128250-k*50).filter(v=>v!==127150);

// ---- Scales ----
const svg=d3.select("#c");
const x1=d3.scaleLinear([0,75],[68.4,608.4]), y1=d3.scaleLinear([128250,126800],[49,941]);
const x2=d3.scaleLinear([0,332],[857.7,2867.96]), y2=d3.scaleLinear([13200,11950],[80.7,957.7]);
const cciY=d3.scaleLinear([40,-80],[986.7,1077]), cciY2=d3.scaleLinear([0,-40],[1018.3,1049.1]);
const stY1=d3.scaleLinear([0,100],[1192.3,1094.3]), stY2=d3.scaleLinear([0,100],[1190.7,1081.5]);
const axisC="#b2b5be", RED="#ff0000", GREEN="#067a06";

svg.append("rect").attr("width",3077).attr("height",1266).attr("fill","#1e222d");
svg.append("rect").attr("x",10).attr("y",27).attr("width",782).attr("height",1203).attr("fill","#000").attr("stroke","#2a2e39");
svg.append("rect").attr("x",798).attr("y",27).attr("width",2269).attr("height",1203).attr("fill","#000").attr("stroke","#2a2e39");
const defs=svg.append("defs");
[["cpL",11,27,705,943],["cpR",799,27,2196,946],["cpL2",11,971,705,112],["cpL3",11,1084,705,119],["cpR2",799,974,2196,92],["cpR3",799,1067,2196,136]].forEach(a=>
 defs.append("clipPath").attr("id",a[0]).append("rect").attr("x",a[1]).attr("y",a[2]).attr("width",a[3]).attr("height",a[4]));
const gL=svg.append("g").attr("clip-path","url(#cpL)"), gR=svg.append("g").attr("clip-path","url(#cpR)");

function poly(g,x,y,data,color,w,opts={}){
  const ln=d3.line().defined(d=>d).x(d=>x(d[0])).y(d=>y(d[1]));
  const p=g.append("path").attr("d",ln(data)).attr("fill","none").attr("stroke",color).attr("stroke-width",w).attr("stroke-linejoin","round");
  if(opts.dash)p.attr("stroke-dasharray",opts.dash);
  if(opts.op)p.attr("opacity",opts.op);
  return p;
}
function hline(g,xa,xb,y,color,w,dash){
  const l=g.append("line").attr("x1",xa).attr("x2",xb).attr("y1",y).attr("y2",y).attr("stroke",color).attr("stroke-width",w);
  if(dash)l.attr("stroke-dasharray",dash);
}
function slopeLine(g,x,y,data,up,down,w){
  d3.pairs(data).forEach(([a,b])=>poly(g,x,y,[a,b],b[1]>=a[1]?up:down,w));
}
function candles(g,x,y,o,c,h,l,bw){
  const idx=d3.range(o.length);
  g.append("g").attr("shape-rendering","crispEdges").selectAll("line").data(idx).join("line")
   .attr("x1",i=>Math.round(x(i))+.5).attr("x2",i=>Math.round(x(i))+.5).attr("y1",i=>y(h[i])).attr("y2",i=>y(l[i]))
   .attr("stroke","#fff").attr("stroke-width",1);
  g.append("g").attr("shape-rendering","crispEdges").selectAll("rect").data(idx).join("rect")
   .attr("x",i=>Math.round(x(i))+.5-bw/2).attr("width",bw)
   .attr("y",i=>y(Math.max(o[i],c[i])))
   .attr("height",i=>Math.max(1.5,Math.abs(y(o[i])-y(c[i]))))
   .attr("fill",i=>c[i]>=o[i]?GREEN:RED);
}
function profile(g,yS,baseX,start,step,buy,sell,hi,lo,h,colors,k){
  const v=d3.scaleLinear([0,100],[0,100/k]);
  buy.forEach((b,i)=>{
    const p=start-i*step, bright=p<=hi&&p>=lo, yy=yS(p)-h/2;
    g.append("rect").attr("x",baseX).attr("y",yy).attr("width",v(b)).attr("height",h).attr("fill",bright?colors[0]:colors[2]);
    g.append("rect").attr("x",baseX+v(b)).attr("y",yy).attr("width",v(sell[i])).attr("height",h).attr("fill",bright?colors[1]:colors[3]);
  });
}
function grayProfile(g,yS,right,start,step,vols,k){
  const v=d3.scaleLinear([0,100],[0,100/k]);
  g.append("g").attr("shape-rendering","crispEdges").selectAll("rect").data(vols).join("rect")
   .attr("x",d=>right-v(d)).attr("width",d=>v(d)).attr("y",(d,i)=>Math.round(yS(start-i*step))).attr("height",1).attr("fill","#414248");
}
function dot(g,cx,cy,c,op){g.append("ellipse").attr("cx",cx).attr("cy",cy).attr("rx",4.2).attr("ry",5).attr("fill",c).attr("opacity",op);}
function bolt(cx,cy){
  svg.append("circle").attr("cx",cx).attr("cy",cy).attr("r",10).attr("fill","#000").attr("stroke","#9c27b0").attr("stroke-width",1.6);
  svg.append("path").attr("d",`M${cx+2} ${cy-7}L${cx-4} ${cy+1}H${cx}L${cx-2} ${cy+7}L${cx+4} ${cy-1}H${cx}Z`).attr("fill","#9c27b0");
  svg.append("circle").attr("cx",cx+7).attr("cy",cy-8).attr("r",2.6).attr("fill","#f23645");
}

// ====== LEFT PRICE PANE ======
const boxFill="#040b10";
[[-0.3,16.5,128091,127617],[16.5,40.4,128133,127146],[40.4,64.5,127372,126877],[64.5,75,127395,127243]].forEach(b=>
 gL.append("rect").attr("x",x1(b[0])).attr("width",x1(b[1])-x1(b[0])).attr("y",y1(b[2])).attr("height",y1(b[3])-y1(b[2])).attr("fill",boxFill));
const lc=["#43a047","#e53d31","#1f4a25","#6b1e1e"];
grayProfile(gL,y1,608.2,128127,10.4,grayVolH,1.96);
profile(gL,y1,66.3,128116,12.79,s1Buy,s1Sell,127806,126877,6.8,lc,1.96);
profile(gL,y1,187.3,128112,20.3,s2Buy,s2Sell,127885,127146,11.3,lc,1.96);
profile(gL,y1,360.2,127368,10.24,s3Buy,s3Sell,127288,127082,5.6,lc,1.96);
profile(gL,y1,533.2,127379,9.76,s4Buy,s4Sell,127359,127243,5.2,lc,1.96);
// session levels
const lvl=(x0,x1b,p,c,w)=>hline(gL,x0,x1b,y1(p),c,w);
lvl(113,187,127954,"#f23645",3);lvl(187,360,127885,"#f23645",3);lvl(360,533,127288,"#f23645",3);lvl(533,612,127359,"#f23645",3);
lvl(66,187,127929,"#ff9800",3);lvl(187,280,127900,"#ff9800",1.5);lvl(187,360,127218,"#ff9800",3);lvl(360,533,127162,"#ff9800",3);lvl(533,612,127268,"#ff9800",3);
lvl(127,187,127749,"#4caf50",3);lvl(187,360,127146,"#4caf50",3);lvl(360,533,127082,"#4caf50",3);lvl(533,612,127243,"#4caf50",3);
poly(gL,x1,y1,hStepRed,"#8a1f2a",2);
poly(gL,x1,y1,hStepOrange,"#a86a0c",2);
poly(gL,x1,y1,hStepGreen,"#3c8f40",1.5);
poly(gL,x1,y1,hBandOrange,"#d68a10",1.2);
poly(gL,x1,y1,hVwap,"#2f7fc0",1.3);
// static levels
hline(gL,362,716,y1(128211),"#b3720e",2);
hline(gL,537,709,y1(128129),"#c67c11",1.5);
hline(gL,363,716,y1(127906),"#8a8c93",1.5);
hline(gL,363,716,y1(127422),"#8a8c93",1.5);
hline(gL,66,716,y1(127806),"#f23645",2,"2,5");
hline(gL,66,716,y1(127223),"#ff9800",2.5);
hline(gL,66,716,y1(127178),"#f00",1,"1,2");
hline(gL,66,716,y1(126877),"#4caf50",2,"2,4.5");
hline(gL,537,716,y1(127754),"#1b7c4d",2);
hline(gL,537,716,y1(126781),"#089981",1.5);
gL.append("rect").attr("x",537).attr("width",173).attr("y",y1(127640)).attr("height",4).attr("fill","#b22833").attr("opacity",.65);
gL.append("rect").attr("x",537).attr("width",173).attr("y",y1(126970)).attr("height",5).attr("fill","#009688").attr("opacity",.4);
candles(gL,x1,y1,hOpen,hClose,hHigh,hLow,5);
poly(gL,x1,y1,hBlueDraw,"#2f6fd0",1.2);
// arrow head
const ah=[x1(84.7),y1(127625)];
gL.append("path").attr("d",`M${ah[0]-4} ${ah[1]+4}L${ah[0]} ${ah[1]}L${ah[0]+4} ${ah[1]+4}`).attr("fill","none").attr("stroke","#2f6fd0").attr("stroke-width",1.2);
dot(gL,118.4,156.7,"#f23645",1);dot(gL,299,124,"#f23645",1);dot(gL,291.5,408.3,"#4caf50",1);dot(gL,500.5,866.7,"#4caf50",1);
const lbl=(g,x,y,t,anchor)=>g.append("text").attr("x",x).attr("y",y).attr("fill","#9598a1").attr("font-size",12.5).attr("text-anchor",anchor||"end").attr("dominant-baseline","middle").text(t);
lbl(gL,349,262,"R   (1.279)");
lbl(gL,349,559,"P (1.274)");

// ====== RIGHT PRICE PANE ======
const rc=["#3b873f","#bd352b","#204a25","#6b1e1e"];
grayProfile(gR,y2,2867.2,13276,7.65,grayVolD,2.316);
profile(gR,y2,857.1,13135,13.37,profBuy,profSell,12808,12366,8,rc,1.96);
hline(gR,857,2995,y2(12808),"#f23645",1.6,"2,4");
hline(gR,857,2995,y2(12366),"#4caf50",1.8,"2,4");
hline(gR,857,2867,y2(12167),"#8a2027",1.2,"1,1.5");
hline(gR,2170,2995,y2(12555),"#8a8c93",1.5);
hline(gR,2170,2995,y2(11970),"#8a8c93",1.5);
hline(gR,2830,2995,y2(13043),"#b040c8",1);
hline(gR,2830,2995,y2(12462),"#a030b8",1.6);
hline(gR,2860,2995,y2(12821),"#c67c11",1.8);
hline(gR,2860,2995,y2(12607),"#c67c11",1.8);
channelLines.forEach(l=>poly(gR,x2,y2,l,"#6f7078",1));
poly(gR,x2,y2,bandOuterUp,"#6a1a20",1.1);
poly(gR,x2,y2,bandInnerUp,"#6a1a20",1.1);
poly(gR,x2,y2,bandInnerDown,"#2f7a33",1.1);
poly(gR,x2,y2,bandOuterDown,"#2f7a33",1.1);
slopeLine(gR,x2,y2,slowMA,"#0d5a12","#741216",1.2);
slopeLine(gR,x2,y2,fastMA,"#0f6b14","#8c1116",1.8);
hline(gR,857,2995,y2(12719),"#ff9800",2.4);
hline(gR,857,2995,y2(12715),"#e02020",1,"1,1.5");
candles(gR,x2,y2,dOpen,dClose,dHigh,dLow,5);
[[101.8,13153],[60.8,12628],[274.6,12855]].forEach(d=>dot(gR,x2(d[0]),y2(d[1]),"#f44336",.5));
[[73.9,12282],[159.7,12034],[304.8,12336]].forEach(d=>dot(gR,x2(d[0]),y2(d[1]),"#4caf50",.5));
[[12810,"#c67c11"],[12605,"#c67c11"],[12765,"#741216"],[12660,"#0d6a60"]].forEach(t=>hline(gR,2867,2873,y2(t[0]),t[1],1.2));
lbl(gR,2154,532.7,"P (1.256)");
lbl(gR,2157,943.7,"S1 (1.197)");

// ====== CCI ======
function cciPath(g,x,y,data){
  d3.pairs(data).forEach(([a,b])=>poly(g,x,y,[a,b],(a[1]+b[1])/2>=0?"#387a36":"#a93226",3.2));
}
const gL2=svg.append("g").attr("clip-path","url(#cpL2)"), gL3=svg.append("g").attr("clip-path","url(#cpL3)");
const gR2=svg.append("g").attr("clip-path","url(#cpR2)"), gR3=svg.append("g").attr("clip-path","url(#cpR3)");
hline(gL2,66,608,cciY(0),"#1c1c30",1);
cciPath(gL2,x1,cciY,cciH.map((v,i)=>[i,v]));
hline(gR2,857,2868,cciY2(0),"#1c1c30",1);
cciPath(gR2,x2,cciY2,cciD);

// ====== STOCH ======
hline(gL3,66,716,stY1(98),"#77787f",1.2);
hline(gL3,66,716,stY1(50),"#6f7078",1,"4,4");
hline(gL3,66,716,stY1(80.6),"#888",1);
hline(gL3,66,716,stY1(80),"#f44336",1.8);
hline(gL3,66,716,stY1(19.4),"#4caf50",1.2);
[[stSlowGreenH,"#43a047"],[stSlowRedH,"#f44336"],[stFastGreenH,"#43a047"],[stFastRedH,"#f44336"]].forEach(a=>poly(gL3,x1,stY1,a[0],a[1],1.1));
gR3.append("rect").attr("x",857).attr("width",2138).attr("y",stY2(55.6)).attr("height",stY2(46)-stY2(55.6)).attr("fill","#4a4a4e").attr("stroke","#7c7d84").attr("stroke-width",1.2);
hline(gR3,857,2995,stY2(50),"#8e8f96",1,"4,4");
hline(gR3,857,2995,stY2(80),"#f44336",1.3);
hline(gR3,857,2995,stY2(19.5),"#4caf50",1.3);
[[stSlowGreenD,"#43a047"],[stSlowRedD,"#f44336"],[stFastGreenD,"#43a047"],[stFastRedD,"#f44336"]].forEach(a=>poly(gR3,x2,stY2,a[0],a[1],1));

// ====== FRAME LINES ======
[970,1083,1203].forEach(y=>hline(svg,10,792,y,"#50505a",1.2));
[973,1066.7].forEach(y=>hline(svg,798,3067,y,"#2c2f3b",1.2));
svg.append("line").attr("x1",716).attr("x2",716).attr("y1",27).attr("y2",1230).attr("stroke","#787b86");
svg.append("line").attr("x1",65.3).attr("x2",65.3).attr("y1",27).attr("y2",1230).attr("stroke","#8a8c93");

// ====== AXES ======
function styleAxis(g,size){g.select(".domain").remove();g.selectAll(".tick line").remove();g.selectAll("text").attr("fill",axisC).attr("font-size",size||12.5).attr("font-family","Roboto,sans-serif");}
svg.append("g").attr("transform","translate(716,0)").call(d3.axisRight(y1).tickValues(hourPriceTicks).tickSize(0).tickPadding(10).tickFormat(d=>(d/1e5).toFixed(5))).call(styleAxis);
svg.append("g").attr("transform","translate(2995,0)").call(d3.axisRight(y2).tickValues(dayPriceTicks).tickSize(0).tickPadding(9.5).tickFormat(d=>(d/1e4).toFixed(5))).call(styleAxis);
svg.append("g").attr("transform","translate(716,0)").call(d3.axisRight(cciY).tickValues([40,0,-40,-80]).tickSize(0).tickPadding(7).tickFormat(d=>(d<0?"\u2212":"")+Math.abs(d).toFixed(5))).call(styleAxis);
svg.append("g").attr("transform","translate(2995,0)").call(d3.axisRight(cciY2).tickValues([0]).tickSize(0).tickPadding(7).tickFormat(d=>d.toFixed(5))).call(styleAxis);
svg.append("g").attr("transform","translate(716,0)").call(d3.axisRight(d3.scaleLinear([0,60],[1199,1091])).tickValues([60,40,20,0]).tickSize(0).tickPadding(7).tickFormat(d=>d.toFixed(2))).call(styleAxis);
svg.append("g").attr("transform","translate(2995,0)").call(d3.axisRight(d3.scaleLinear([0,80],[1191.7,1100])).tickValues([80,40,0]).tickSize(0).tickPadding(9).tickFormat(d=>d.toFixed(2))).call(styleAxis);
svg.append("g").attr("transform","translate(62,0)").call(d3.axisLeft(stY1).tickValues([80,40,0]).tickSize(0).tickPadding(3).tickFormat(d=>d.toFixed(2))).call(styleAxis);
svg.append("g").attr("transform","translate(852,0)").call(d3.axisLeft(d3.scaleLinear([0,80],[1190.7,1103.3])).tickValues([80,40,0]).tickSize(0).tickPadding(3).tickFormat(d=>d.toFixed(2))).call(styleAxis);
const xa1=svg.append("g").attr("transform","translate(0,1203)").call(d3.axisBottom(x1).tickValues(hourTicks).tickSize(0).tickPadding(7).tickFormat((d,i)=>hourLabels[i])).call(styleAxis);
xa1.selectAll("text").attr("font-weight",(d,i)=>hourLabels[i]=="10"?700:400);
const xa2=svg.append("g").attr("transform","translate(0,1203)").call(d3.axisBottom(x2).tickValues(dayTicks).tickSize(0).tickPadding(7).tickFormat((d,i)=>dayLabels[i])).call(styleAxis);
xa2.selectAll("text").attr("font-weight",(d,i)=>dayLabels[i]=="2024"?700:400);

// price tags
function tag(x,w,y,h,a,b){
  svg.append("rect").attr("x",x).attr("y",y).attr("width",w).attr("height",h).attr("fill","#ff0000");
  svg.append("text").attr("x",x+9.5).attr("y",y+h*.3).attr("fill","#fff").attr("font-size",12.5).attr("dominant-baseline","middle").text(a);
  svg.append("text").attr("x",x+9.5).attr("y",y+h*.74).attr("fill","#fff").attr("opacity",.8).attr("font-size",12.5).attr("dominant-baseline","middle").text(b);
}
tag(716,59,700,30,"1.27180","33:55");
tag(2995,67,411,31,"1.27180","13:33:55");
bolt(608,957);bolt(2867,960);

// corner buttons
function roundBtn(x,t){svg.append("circle").attr("cx",x).attr("cy",1217).attr("r",9.5).attr("fill","#1e222d");
 svg.append("text").attr("x",x).attr("y",1217).attr("fill","#787b86").attr("font-size",11.5).attr("text-anchor","middle").attr("dominant-baseline","middle").text(t);}
roundBtn(38,"Z");roundBtn(755,"A");roundBtn(827,"Z");roundBtn(3032,"A");
svg.append("rect").attr("x",2999).attr("y",31).attr("width",64).attr("height",26).attr("rx",3).attr("fill","#131722").attr("stroke","#2a2e39");
svg.append("text").attr("x",3008).attr("y",44).attr("fill","#d1d4dc").attr("font-size",12.5).attr("dominant-baseline","middle").text("USD");
// header + footer
svg.append("text").attr("x",10).attr("y",16).attr("fill","#d1d4dc").attr("font-size",12.8).text("Tickmill published on TradingView.com, Jun 11, 2024 08:26 UTC+1");
svg.append("path").attr("d","M10 1243h8v14h-4v-10h-4zM20.5 1243h9l-5 14h-4l3-8z").attr("fill","#d1d4dc");
svg.append("circle").attr("cx",21).attr("cy",1246).attr("r",1.8).attr("fill","#d1d4dc");
svg.append("text").attr("x",34).attr("y",1255).attr("fill","#d1d4dc").attr("font-size",15).text("TradingView");
</script></body></html>
